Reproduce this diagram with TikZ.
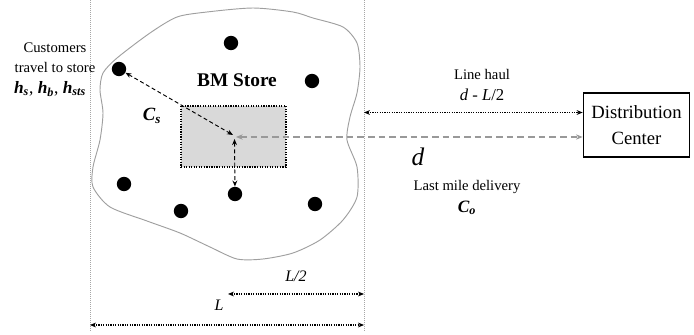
\documentclass[tikz,border=0pt]{standalone}
\usepackage{fontspec}
\setmainfont{Liberation Serif}
\usetikzlibrary{arrows.meta}
\newcommand\bisub[2]{\textbf{\textit{#1}}\textsubscript{\textbf{\textit{#2}}}}
\begin{document}
\begin{tikzpicture}[x=0.75pt,y=-0.75pt,
  tip/.style={Stealth[length=4.5pt,width=3.6pt]},
  cust/.style={circle,fill=black,inner sep=0pt,minimum size=10.8pt},
  guide/.style={draw=gray!70,densely dotted,line width=0.5pt},
  dimarrow/.style={densely dotted,line width=0.8pt,{Stealth[length=4.5pt,width=3.6pt]}-{Stealth[length=4.5pt,width=3.6pt]}},
  blackdash/.style={dashed,dash pattern=on 3pt off 2pt,line width=0.7pt,{Stealth[length=4.5pt,width=3.6pt]}-{Stealth[length=4.5pt,width=3.6pt]}},
  graydash/.style={draw=gray!80,dash pattern=on 5pt off 3pt,line width=1pt,{Stealth[length=5pt,width=4pt]}-{Stealth[length=5pt,width=4pt]}},
  lbl/.style={font=\fontsize{11}{15}\selectfont,align=center,inner sep=0pt}
]
\useasboundingbox (0,0) rectangle (694,335);
% guides
\coordinate (gl1) at (90,0); \coordinate (gl2) at (90,332);
\coordinate (gr1) at (364,0); \coordinate (gr2) at (364,332);
\draw[guide] (gl1) -- (gl2);
\draw[guide] (gr1) -- (gr2);
% blob
\draw[draw=gray!75,line width=0.7pt] plot[smooth cycle,tension=0.45] coordinates {
(117,58) (150,33) (177,17) (207,12) (253,8) (293,12) (313,18) (343,27) (357,43) (360,67)
(357,93) (350,117) (347,140) (357,167) (357,197) (343,220) (320,240) (293,253)
(263,259) (237,259) (210,247) (180,233) (147,221) (110,207) (93,187) (93,167)
(100,140) (103,113) (100,90) (103,73)};
% store
\node[draw=black,densely dotted,line width=0.9pt,fill=gray!30,minimum width=78.75pt,minimum height=45.75pt,inner sep=0pt] (store) at (233.5,136.5) {};
\coordinate (ctr) at (235,137);
\node[font=\fontsize{14.5}{16}\selectfont\bfseries] (bm) at (237,80) {BM Store};
% customers
\node[cust] (c1) at (231,43) {};
\node[cust] (c2) at (312,81) {};
\node[cust] (c3) at (119,69) {};
\node[cust] (c4) at (124,184) {};
\node[cust] (c5) at (181,211) {};
\node[cust] (c6) at (235,194) {};
\node[cust] (c7) at (315,204) {};
% distribution center
\node[draw=black,line width=0.8pt,minimum width=80pt,minimum height=48pt,align=center,inner sep=0pt,font=\fontsize{14}{19.5}\selectfont] (dc) at (636.5,125) {Distribution\\Center};
% arrows
\coordinate (ctra) at (233,135);
\coordinate (ctrb) at (234.5,139);
\draw[blackdash] (c3) -- (ctra);
\draw[blackdash] (ctrb) -- (c6);
\coordinate (gs) at (236,137);
\draw[graydash] (gs) -- (dc.west |- gs);
\coordinate (lh) at (364,112.5);
\draw[dimarrow] (lh) -- (dc.west |- lh);
\coordinate (h1) at (228,294); \coordinate (h2) at (364,294);
\draw[dimarrow] (h1) -- (h2);
\coordinate (f1) at (90,325); \coordinate (f2) at (364,325);
\draw[dimarrow] (f1) -- (f2);
% labels
\node[lbl] (custtxt) at (55,58) {Customers\\travel to store};
\node[font=\fontsize{13}{15}\selectfont,inner sep=0pt] (hs) at (50,89) {\bisub{h}{s}, \bisub{h}{b}, \bisub{h}{sts}};
\node[font=\fontsize{14}{16}\selectfont,inner sep=0pt] (cs) at (152,116) {\bisub{C}{s}};
\node[lbl] (lhtxt) at (482,74) {Line haul};
\node[font=\fontsize{12.5}{15}\selectfont,inner sep=0pt] (dl) at (482,95) {\textit{d} - \textit{L}/2};
\node[font=\fontsize{19}{20}\selectfont\itshape,inner sep=0pt] (d) at (418,157) {d};
\node[lbl] (lm) at (467,187) {Last mile delivery};
\node[font=\fontsize{13}{15}\selectfont,inner sep=0pt] (co) at (467,208) {\bisub{C}{o}};
\node[font=\fontsize{12}{14}\selectfont\itshape,inner sep=0pt] (l2) at (296,276) {L/2};
\node[font=\fontsize{12}{14}\selectfont\itshape,inner sep=0pt] (l) at (219,305) {L};
\end{tikzpicture}
\end{document}
